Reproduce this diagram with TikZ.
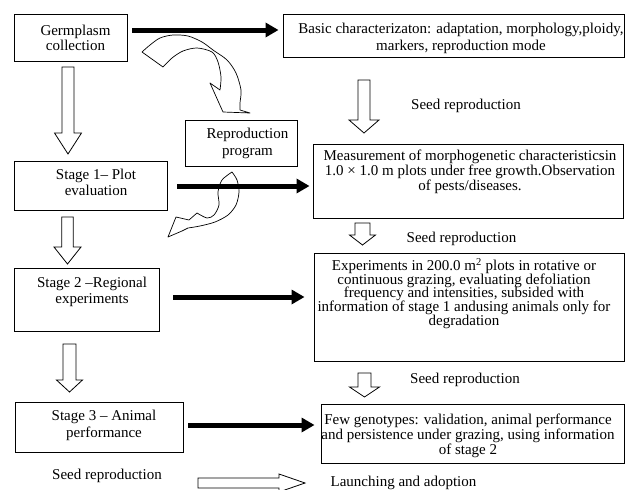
\documentclass[tikz,border=0pt]{standalone}
\usepackage{fontspec}
\setmainfont{Liberation Serif}
\usetikzlibrary{arrows.meta,calc}
\newcommand{\blockdown}[6]{%
  \draw[hollowarr] ({#1-#5},#2) -- ({#1+#5},#2) -- ({#1+#5},#3) -- ({#1+#6},#3) -- (#1,#4) -- ({#1-#6},#3) -- ({#1-#5},#3) -- cycle;}
\newcommand{\blockright}[6]{%
  \draw[hollowarr] (#2,{#1-#5}) -- (#2,{#1+#5}) -- (#3,{#1+#5}) -- (#3,{#1+#6}) -- (#4,#1) -- (#3,{#1-#6}) -- (#3,{#1-#5}) -- cycle;}
\begin{document}
\begin{tikzpicture}[x=1pt,y=-1pt,
  box/.style={draw,line width=0.9pt,rectangle,inner sep=0pt},
  txt/.style={inner sep=0pt,align=center,font=\fontsize{15}{#1}\selectfont},
  txt/.default=16,
  thickarr/.style={line width=5pt,-{Triangle[length=13pt,width=14pt]}},
  hollowarr/.style={draw,line width=0.8pt,line join=miter},
  curvarr/.style={draw,line width=0.7pt,line join=round}]
\useasboundingbox (0,0) rectangle (625,490);

% boxes
\node[box,minimum width=113pt,minimum height=47pt] (g) at (70.5,37.5) {};
\node[box,minimum width=341pt,minimum height=43pt] (b) at (453.5,35.5) {};
\node[box,minimum width=112pt,minimum height=46pt] (rp) at (241,143) {};
\node[box,minimum width=153pt,minimum height=49pt] (s1) at (90.5,185.5) {};
\node[box,minimum width=310pt,minimum height=74pt] (m) at (468,181) {};
\node[box,minimum width=145pt,minimum height=63pt] (s2) at (86.5,299.5) {};
\node[box,minimum width=310pt,minimum height=108pt] (e) at (469,307) {};
\node[box,minimum width=168pt,minimum height=50pt] (s3) at (99,427) {};
\node[box,minimum width=303pt,minimum height=59pt] (f) at (472.5,433.5) {};

% texts
\node[txt=15] (gt) at (75.5,37.5) {Germplasm\\collection};
\node[txt=17] (bt) at (461,38.5) {Basic characterizaton: adaptation, morphology,ploidy,\\markers, reproduction mode};
\node[txt=17] (rpt) at (247.5,143.5) {Reproduction\\program};
\node[txt=16] (s1t) at (96,182) {Stage 1-- Plot\\evaluation};
\node[txt=13.3] (mt) at (470,172) {Measurement of morphogenetic characteristicsin\\1.0 × 1.0 m plots under free growth.Observation\\of pests/diseases.};
\node[txt=16.5] (s2t) at (92,292) {Stage 2 --Regional\\experiments};
\node[txt=13.8] (et) at (464,293.5) {Experiments in 200.0 m\textsuperscript{2} plots in rotative or\\continuous grazing, evaluating defoliation\\frequency and intensities, subsided with\\information of stage 1 andusing animals only for\\degradation};
\node[txt=17] (s3t) at (104,425.5) {Stage 3 -- Animal\\performance};
\node[txt=15] (ft) at (468,436) {Few genotypes: validation, animal performance\\and persistence under grazing, using information\\of stage 2};
\node[txt] (sr1) at (466,106) {Seed reproduction};
\node[txt] (sr2) at (461.5,239) {Seed reproduction};
\node[txt] (sr3) at (465,380) {Seed reproduction};
\node[txt] (sr4) at (107,476) {Seed reproduction};
\node[txt] (la) at (403.5,483) {Launching and adoption};

% hollow block arrows
\blockdown{68}{67}{133}{154}{6}{13.5}
\blockdown{67.5}{217}{247}{264}{5.8}{13.5}
\blockdown{69.5}{344}{380}{392}{6.5}{13}
\blockdown{364}{80}{120}{133}{6}{15}
\blockdown{362.5}{223}{235}{245}{7.5}{13}
\blockdown{364.5}{373}{387}{397}{6.5}{15}
\blockright{483}{198}{279}{305}{5}{9}

% curved arrows
\draw[curvarr] plot[smooth] coordinates {(142,52) (150,45) (160,38) (173,35) (188,36) (202,42) (213,50) (227,60) (236,73) (241,90) (240,103) (240,110)}
  -- (250,113) -- (223,112) -- (210,83) -- (220,90)
  -- plot[smooth] coordinates {(220,90) (221,77) (218,62) (212,52) (197,48) (183,51) (172,58) (163,67)} -- cycle;
\draw[curvarr] plot[smooth] coordinates {(232,172) (237,180) (239,192) (236,205) (228,215) (215,222) (200,226) (188,228)}
  -- (182,231) -- (168,237) -- (176,217) -- (189,220) -- (197,213)
  -- plot[smooth] coordinates {(197,213) (207,218) (214,215) (219,205) (218,192) (222,180) (232,172)} -- cycle;

% thick arrows
\draw[thickarr,shorten <=5pt,shorten >=4pt] (g.east |- 0,30) -- (b.west |- 0,30);
\draw[thickarr,shorten <=10pt,shorten >=3pt] (s1.east |- 0,186) -- (m.west |- 0,186);
\draw[thickarr,shorten <=14pt,shorten >=9pt] (s2.east |- 0,297) -- (e.west |- 0,297);
\draw[thickarr,shorten <=5pt,shorten >=6pt] (s3.east |- 0,425) -- (f.west |- 0,425);
\end{tikzpicture}
\end{document}
